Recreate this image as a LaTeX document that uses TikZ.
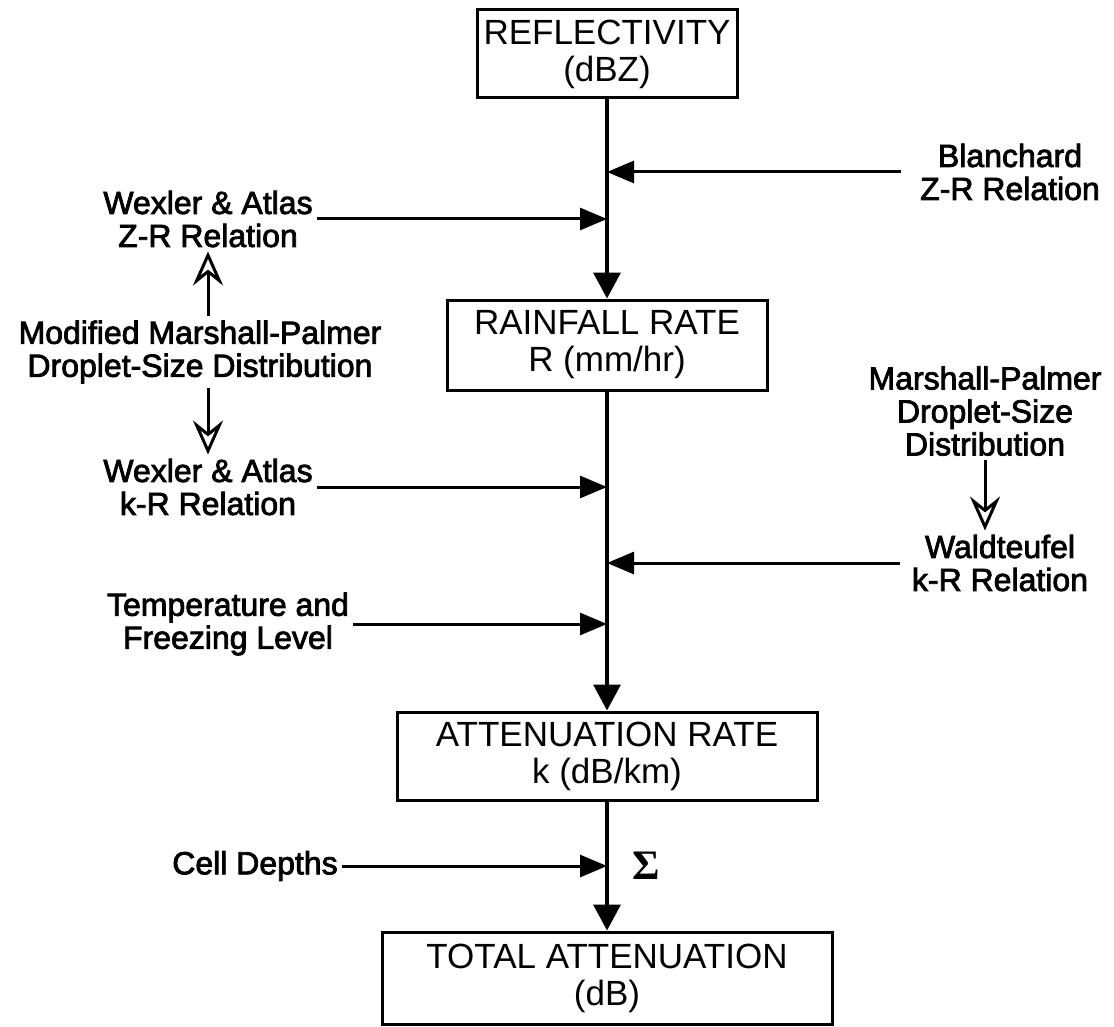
\documentclass[tikz,border=0pt]{standalone}
\usepackage{fontspec}
\setmainfont{Liberation Sans}
\newfontfamily\lblfont{Liberation Sans}[FakeBold=2.5]
\newfontfamily\sigmafont{Liberation Serif}
\usetikzlibrary{arrows.meta}
\begin{document}
\begin{tikzpicture}[x=1pt,y=-1pt,
  boxnode/.style={draw,line width=3pt,inner sep=0pt,align=center,font=\fontsize{35}{37}\selectfont},
  lbl/.style={align=center,inner sep=4pt,font=\lblfont\fontsize{32}{33}\selectfont},
  mainline/.style={line width=3.5pt,-{Triangle[length=26pt,width=27pt]}},
  sidearrow/.style={line width=3pt,-{Triangle[length=27pt,width=22pt]}},
  smallarrow/.style={line width=3pt,-{Stealth[length=34pt,width=30pt,inset=12pt,open]}}]
\useasboundingbox (0,0) rectangle (1114,1027);
\node[boxnode,minimum width=260pt,minimum height=88pt] (refl) at (607,54) {REFLECTIVITY\\(dBZ)};
\node[boxnode,minimum width=320pt,minimum height=90pt] (rain) at (607,345) {RAINFALL RATE\\R (mm/hr)};
\node[boxnode,minimum width=420pt,minimum height=88pt] (att) at (607,756) {ATTENUATION RATE\\k (dB/km)};
\node[boxnode,minimum width=450pt,minimum height=92pt] (tot) at (607,978) {TOTAL ATTENUATION\\(dB)};
\node[lbl] (bl) at (1010,172) {Blanchard\\Z-R Relation};
\node[lbl] (wzr) at (208,219) {Wexler \& Atlas\\Z-R Relation};
\node[lbl] (mmp) at (200,352) {Modified Marshall-Palmer\\Droplet-Size Distribution};
\node[lbl] (wkr) at (208,487) {Wexler \& Atlas\\k-R Relation};
\node[lbl] (mp) at (985,411) {Marshall-Palmer\\Droplet-Size\\Distribution};
\node[lbl] (wt) at (1000,563) {Waldteufel\\k-R Relation};
\node[lbl] (tf) at (228,624) {Temperature and\\Freezing Level};
\node[lbl] (cd) at (255,866) {Cell Depths};
\node (sig) at (646,866) {\sigmafont\bfseries\fontsize{42}{42}\selectfont Σ};
\draw[mainline] (refl.south) -- (rain.north);
\draw[mainline] (rain.south) -- (att.north);
\draw[mainline] (att.south) -- (tot.north);
\draw[sidearrow] ([xshift=-15pt]bl.west) -- (bl.west -| refl.south);
\draw[sidearrow] (wzr.east) -- (wzr.east -| refl.south);
\draw[sidearrow] (wkr.east) -- (wkr.east -| refl.south);
\draw[sidearrow] ([xshift=-8pt]wt.west) -- (wt.west -| refl.south);
\draw[sidearrow] (tf.east) -- (tf.east -| refl.south);
\draw[sidearrow] (cd.east) -- (cd.east -| refl.south);
\draw[smallarrow] (mmp.north -| wzr.south) -- (wzr.south);
\draw[smallarrow] (mmp.south -| wkr.north) -- (wkr.north);
\draw[smallarrow] (mp.south) -- (mp.south |- wt.north);
\end{tikzpicture}
\end{document}
